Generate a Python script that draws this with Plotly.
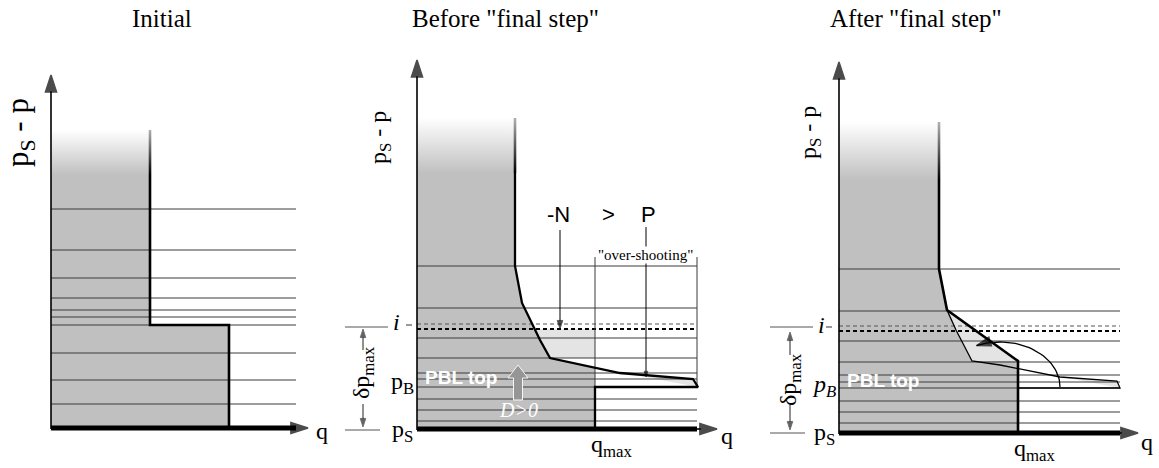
import numpy as np
import plotly.graph_objects as go

W, H = 1159, 468
S = 10.0  # pixels per schematic unit

# ---------------- data (schematic units: q, ps - p) ----------------
# Panel 1: Initial
init_levels = [21.9, 17.8, 15.0, 13.0, 11.8, 11.1, 10.3, 7.5, 4.8, 2.4]
init_profile_q = [9.9, 9.9, 17.8, 17.8]
init_profile_p = [29.8, 10.3, 10.3, 0.0]
init_fade_p = 25.3
init_q_end = 24.5
init_axis_top = 35.3
init_axis_right = 25.7

# Panel 2: Before "final step"
before_levels = [16.3, 12.1, 9.1, 7.1, 5.6, 5.0, 4.2, 3.0, 1.9, 0.8]
before_dashed = [10.5, 10.0]
before_profile_q = [9.8, 9.8, 10.5, 11.3, 12.3, 13.3, 18.0, 20.3, 27.6, 28.1, 17.8, 17.8]
before_profile_p = [31.1, 16.3, 12.6, 10.9, 8.9, 7.1, 6.1, 5.6, 5.0, 4.2, 4.2, 0.0]
before_fade_p = 25.6
before_q_end = 28.0
before_qmax = 17.8
before_pB = 4.2
before_i = 10.0
before_bracket_top = 17.2
before_N_q, before_N_top = 14.3, 19.9
before_P_q, before_P_top, before_P_bot = 22.9, 20.2, 5.2
before_axis_top = 36.9
before_axis_right = 30.0
before_dp_q = -5.4
before_dp_up = [7.9, 10.0]
before_dp_down = [2.5, 0.2]
before_D_arrow = [10.1, 2.9, 5.1, 6.4]   # q, base, head base, tip

# Panel 3: After "final step"
after_levels = [16.4, 12.2, 9.2, 7.1, 5.8, 5.1, 4.5, 3.2, 2.1, 1.0]
after_dashed = [10.7, 10.2]
after_old_q = [10.0, 10.0, 10.8, 11.7, 13.3, 16.1, 19.4, 22.1, 27.8, 28.1, 17.9]
after_old_p = [31.1, 16.4, 12.3, 10.3, 7.2, 6.8, 6.1, 5.6, 5.2, 4.5, 4.5]
after_new_q = [10.0, 10.0, 10.8, 17.9, 17.9]
after_new_p = [31.1, 16.4, 12.3, 7.2, 0.0]
after_fade_p = 25.3
after_q_end = 28.1
after_qmax = 17.9
after_pB = 4.5
after_arc_center = [16.1, 4.6]
after_arc_radii = [6.0, 4.5]
after_arc_deg = [0, 113]
after_axis_top = 37.1
after_axis_right = 29.9
after_dp_q = -4.9
after_dp_up = [7.8, 10.1]
after_dp_down = [2.8, 0.3]

# ---------------- styling ----------------
SERIF = "Liberation Serif"
SANS = "Liberation Sans"
DARK = "#c0c0c0"
LIGHT = "#e4e4e4"
LEVEL = "#3a3a3a"

ORIGIN = {1: (51, 428), 2: (417, 429), 3: (839, 433)}
DOM = {1: (0, 340), 2: (340, 760), 3: (760, 1159)}

fig = go.Figure()
ann = []
shapes = []


def ax(k):
    return ("x" if k == 1 else f"x{k}"), ("y" if k == 1 else f"y{k}")


def interp_p(q0, p0, q1, p1, q):
    return p0 + (p1 - p0) * (q - q0) / (q1 - q0)


def interp_q(q0, p0, q1, p1, p):
    return q0 + (q1 - q0) * (p - p0) / (p1 - p0)


def poly(k, qs, ps, color, grad=None, top_color="#ffffff", line_color=None, lw=0):
    xr, yr = ax(k)
    kw = {}
    if grad is not None:
        kw["fillgradient"] = dict(type="vertical", start=grad[0], stop=grad[1],
                                  colorscale=[[0, color], [1, top_color]])
    fig.add_trace(go.Scatter(x=qs + [qs[0]], y=ps + [ps[0]], xaxis=xr, yaxis=yr,
                             mode="lines", fill="toself", fillcolor=color,
                             line=dict(width=lw, color=line_color or color),
                             hoverinfo="skip", **kw))


def line(k, qs, ps, width=1, color="black", dash=None):
    xr, yr = ax(k)
    fig.add_trace(go.Scatter(x=qs, y=ps, xaxis=xr, yaxis=yr, mode="lines",
                             line=dict(width=width, color=color, dash=dash),
                             hoverinfo="skip"))


def levels(k, lev, qend, width=1.0, color=LEVEL, dash=None):
    xs, ys = [], []
    for p in lev:
        xs += [0, qend, None]
        ys += [p, p, None]
    line(k, xs, ys, width, color, dash)


def faded(k, q, p_lo, p_hi, width=2.6):
    h = width / S / 2
    poly(k, [q - h, q + h, q + h, q - h], [p_lo, p_lo, p_hi, p_hi], "#000000",
         grad=(p_lo, p_hi), top_color="#b0b0b0")


def arrow(k, qs, ps, width=1.5, head=13, color="black", edge=0.8):
    xr, yr = ax(k)
    sizes = [0] * (len(qs) - 1) + [head]
    fig.add_trace(go.Scatter(x=list(qs), y=list(ps), xaxis=xr, yaxis=yr,
                             mode="lines+markers",
                             line=dict(width=width, color=color),
                             marker=dict(symbol="arrow", size=sizes, angleref="previous",
                                         color=color, line=dict(width=edge, color=color)),
                             hoverinfo="skip"))


def txt(px, py, text, size=24, family=SERIF, color="black", angle=0, **kw):
    ann.append(dict(x=px / W, y=1 - py / H, xref="paper", yref="paper", text=text,
                    showarrow=False, textangle=angle, xanchor="center", yanchor="middle",
                    font=dict(size=size, family=family, color=color), **kw))


def pxline(x0, y0, x1, y1, width=1, color="#333"):
    shapes.append(dict(type="line", xref="paper", yref="paper", x0=x0 / W, x1=x1 / W,
                       y0=1 - y0 / H, y1=1 - y1 / H, line=dict(width=width, color=color)))


def axes(k, qend, top, right):
    line(k, [0, qend], [0, 0], width=5, color="black")
    arrow(k, [0, 0], [-0.1, top], width=1.6, head=18, edge=1.5)
    arrow(k, [qend - 1, right], [0, 0], width=1.6, head=18, edge=1.5)


# ---------------- Panel 1 ----------------
k = 1
poly(k, [0, 0] + init_profile_q, [0, init_profile_p[0]] + init_profile_p, DARK,
     grad=(init_fade_p, init_profile_p[0]))
levels(k, init_levels, init_q_end)
faded(k, init_profile_q[0], init_fade_p, init_profile_p[0])
line(k, [init_profile_q[0]] + init_profile_q[1:], [init_fade_p] + init_profile_p[1:], width=2.6)
axes(k, init_q_end, init_axis_top, init_axis_right)

# ---------------- Panel 2 ----------------
k = 2
bq, bp = before_profile_q, before_profile_p
p_x = interp_p(bq[5], bp[5], bq[6], bp[6], before_qmax)
poly(k, [0, 0] + bq[:6] + [before_qmax, before_qmax], [0, bp[0]] + bp[:6] + [p_x, 0], DARK,
     grad=(before_fade_p, bp[0]))
q_i = interp_q(bq[3], bp[3], bq[4], bp[4], before_i)
poly(k, [q_i, before_qmax, before_qmax] + bq[5:3:-1], [before_i, before_i, bp[5]] + bp[5:3:-1], LIGHT)
poly(k, [before_qmax] + bq[6:10], [p_x] + bp[6:10], LIGHT)
levels(k, before_levels, before_q_end)
levels(k, [before_dashed[0]], before_q_end, width=1.0, color="#555", dash="4px,3px")
levels(k, [before_dashed[1]], before_q_end, width=1.8, color="black", dash="4px,3px")
line(k, [before_qmax, before_qmax], [before_bracket_top, before_pB], width=1, color=LEVEL)
line(k, [before_q_end, before_q_end], [before_bracket_top, before_pB], width=1, color=LEVEL)
faded(k, bq[0], before_fade_p, bp[0])
line(k, [bq[0]] + bq[1:], [before_fade_p] + bp[1:], width=2.3)
arrow(k, [before_N_q, before_N_q], [before_N_top, before_i], width=1, head=9)
arrow(k, [before_P_q, before_P_q], [before_P_top, before_P_bot], width=1, head=6)
arrow(k, [before_dp_q, before_dp_q], before_dp_up, width=1, head=9, color="#222")
arrow(k, [before_dp_q, before_dp_q], before_dp_down, width=1, head=9, color="#222")
axes(k, before_q_end, before_axis_top, before_axis_right)

# gray block arrow ("D>0")
bx, b0, b1, b2 = before_D_arrow
xr2, yr2 = ax(2)
fig.add_trace(go.Scatter(
    x=[bx - 0.45, bx + 0.45, bx + 0.45, bx + 1.0, bx, bx - 1.0, bx - 0.45, bx - 0.45],
    y=[b0, b0, b1, b1, b2, b1, b1, b0], xaxis=xr2, yaxis=yr2, mode="lines",
    fill="toself", fillcolor="rgb(150,150,150)",
    line=dict(width=1.0, color="rgb(245,245,245)"), hoverinfo="skip"))

# ---------------- Panel 3 ----------------
k = 3
oq, op = after_old_q, after_old_p
nq, np_ = after_new_q, after_new_p
p_x3 = interp_p(oq[5], op[5], oq[6], op[6], after_qmax)
poly(k, [0, 0] + oq[:5] + [after_qmax, after_qmax], [0, op[0]] + op[:5] + [np_[3], 0], DARK,
     grad=(after_fade_p, op[0]))
poly(k, oq[2:5] + [nq[3]], op[2:5] + [np_[3]], LIGHT)
poly(k, [after_qmax] + oq[6:10], [p_x3] + op[6:10], LIGHT)
levels(k, after_levels, after_q_end)
levels(k, [after_dashed[0]], after_q_end, width=1.0, color="#555", dash="4px,3px")
levels(k, [after_dashed[1]], after_q_end, width=1.8, color="black", dash="4px,3px")
line(k, oq[1:], op[1:], width=1.3, color="black")
faded(k, nq[0], after_fade_p, np_[0])
line(k, [nq[0]] + nq[1:], [after_fade_p] + np_[1:], width=2.6)
t = np.radians(np.linspace(after_arc_deg[0], after_arc_deg[1], 40))
arc_q = after_arc_center[0] + after_arc_radii[0] * np.cos(t)
arc_p = after_arc_center[1] + after_arc_radii[1] * np.sin(t)
arrow(k, arc_q, arc_p, width=1.3, head=15, edge=1.2)
arrow(k, [after_dp_q, after_dp_q], after_dp_up, width=1, head=9, color="#222")
arrow(k, [after_dp_q, after_dp_q], after_dp_down, width=1, head=9, color="#222")
axes(k, after_q_end, after_axis_top, after_axis_right)

# ---------------- text ----------------
txt(162, 19, "Initial", 25)
txt(505, 19, 'Before "final step"', 25)
txt(916, 19, 'After "final step"', 25)

txt(20, 133, "p<sub>S</sub> - p", 31, angle=-90)
txt(380, 137, "p<sub>S</sub> - p", 24, angle=-90)
txt(810, 133, "p<sub>S</sub> - p", 24, angle=-90)

txt(322, 431, "q", 24)
txt(727, 436, "q", 24)
txt(1147, 442, "q", 24)

# panel 2 labels
txt(558, 215, "-N", 22, SANS)
txt(608, 215, ">", 22, SANS)
txt(648, 215, "P", 22, SANS)
txt(645, 255, '"over-shooting"', 15, bgcolor="white", borderpad=0)
txt(396, 322, "<i>i</i>", 24)
pxline(406, 325, 412, 325, 1, "#333")
pxline(345, 327, 388, 327, 1, "#555")
pxline(345, 430, 380, 430, 1, "#555")
txt(363, 373, "δp<sub>max</sub>", 24, angle=-90)
txt(402, 383, "p<sub>B</sub>", 24)
txt(402, 431, "p<sub>S</sub>", 24)
txt(461, 377, "<b>PBL top</b>", 19, SANS, "white")
txt(518, 410, "<i>D&gt;0</i>", 20, SERIF, "white")
txt(612, 446, "q<sub>max</sub>", 24)

# panel 3 labels
txt(821, 325, "<i>i</i>", 24)
pxline(826, 327, 832, 327, 1, "#333")
pxline(770, 327, 813, 327, 1, "#555")
pxline(770, 433, 805, 433, 1, "#555")
txt(790, 380, "δp<sub>max</sub>", 24, angle=-90)
txt(824, 386, "<i>p<sub>B</sub></i>", 24)
txt(824, 434, "p<sub>S</sub>", 24)
txt(883, 380, "<b>PBL top</b>", 19, SANS, "white")
txt(1035, 450, "q<sub>max</sub>", 24)

# ---------------- layout ----------------
layout = dict(width=W, height=H, margin=dict(l=0, r=0, t=0, b=0), showlegend=False,
              paper_bgcolor="white", plot_bgcolor="rgba(0,0,0,0)",
              annotations=ann, shapes=shapes)
for k in (1, 2, 3):
    ox, oy = ORIGIN[k]
    d0, d1 = DOM[k]
    xn = "xaxis" if k == 1 else f"xaxis{k}"
    yn = "yaxis" if k == 1 else f"yaxis{k}"
    layout[xn] = dict(domain=[d0 / W, d1 / W], range=[(d0 - ox) / S, (d1 - ox) / S],
                      visible=False, fixedrange=True)
    layout[yn] = dict(domain=[0, 1], range=[(oy - H) / S, oy / S], visible=False,
                      fixedrange=True, anchor=("x" if k == 1 else f"x{k}"))
    if k > 1:
        layout[xn]["anchor"] = f"y{k}"
fig.update_layout(**layout)
fig.write_html("out.html")
